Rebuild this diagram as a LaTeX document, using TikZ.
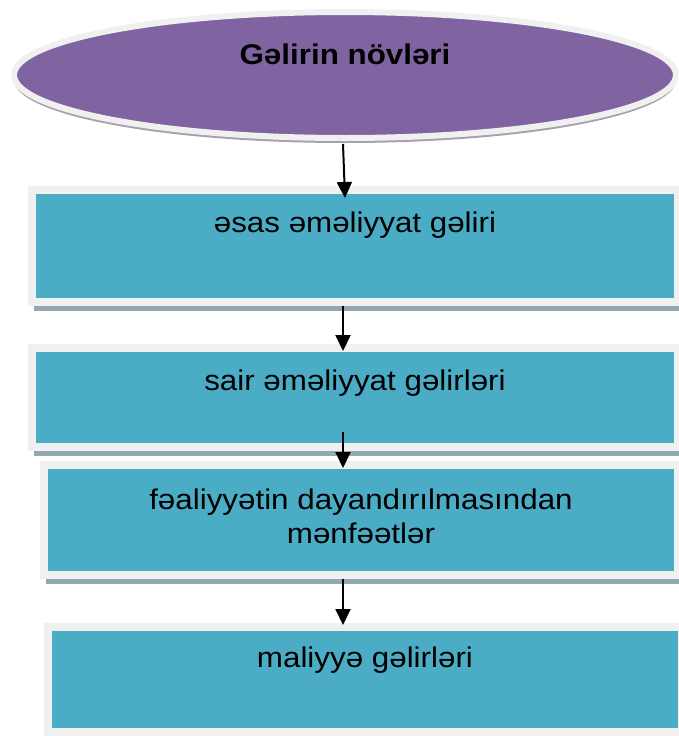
\documentclass[tikz,border=0pt]{standalone}
\usepackage{fontspec}
\setmainfont{Liberation Sans}[FakeStretch=1.1]
\usepackage{tikz}
\usetikzlibrary{positioning, arrows.meta, shapes.geometric, shadows}

\definecolor{boxteal}{HTML}{4BACC6}
\definecolor{titlepurple}{HTML}{8064A2}
\definecolor{rimgrey}{HTML}{F0F0F0}
\definecolor{shadowgrey}{HTML}{93A8AF}
\definecolor{titleshadow}{HTML}{A6A1AC}

\begin{document}
\begin{tikzpicture}
    [
        x=1pt, y=-1pt, on grid,
        purple_node/.style={ellipse, draw=rimgrey, fill=titlepurple, line width=6pt, minimum width=662pt, minimum height=126pt, inner sep=0pt, font=\fontsize{28.5}{34}\selectfont\bfseries, text height=19pt, text depth=41pt, drop shadow={shadow xshift=0pt, shadow yshift=-5pt, fill=titleshadow, opacity=1}},
        teal_box/.style={rectangle, draw=rimgrey, fill=boxteal, line width=8pt, inner sep=0pt, align=center, font=\fontsize{28.5}{34}\selectfont, drop shadow={shadow xshift=2pt, shadow yshift=-9pt, fill=shadowgrey, opacity=1}},
        flow_arrow/.style={-{Triangle[length=16pt, width=15pt]}, line width=2pt, color=black},
    ]
        \useasboundingbox (0,0) rectangle (678,736);
        \node[purple_node] (title) at (345,75) {Gəlirin növləri} ;
        \node[teal_box, minimum width=646pt, minimum height=112pt, text height=42pt, text depth=70pt] (main_income) [below=171pt of title, xshift=10pt] {əsas əməliyyat gəliri} ;
        \node[teal_box, minimum width=646pt, minimum height=99pt, text height=42pt, text depth=57pt] (other_income) [below=151.5pt of main_income] {sair əməliyyat gəlirləri} ;
        \node[teal_box, minimum width=634pt, minimum height=110pt, text depth=8pt] (stop_gains) [below=122.5pt of other_income, xshift=6pt] {fəaliyyətin dayandırılmasından\\mənfəətlər} ;
        \node[teal_box, minimum width=634pt, minimum height=105pt, text height=40pt, text depth=65pt] (finance_income) [below=159.5pt of stop_gains, xshift=4pt] {maliyyə gəlirləri} ;
        \path (title.south) ++(-2,3) coordinate (a1_start) (title.south |- main_income.north) ++(0,12) coordinate (a1_end) ;
        \path (main_income.south -| a1_start) coordinate (a2_start) (other_income.north -| a1_start) ++(0,7) coordinate (a2_end) ;
        \path (other_income.south -| a1_start) ++(0,-19) coordinate (a3_start) (stop_gains.north -| a1_start) ++(0,7) coordinate (a3_end) ;
        \path (stop_gains.south -| a1_start) coordinate (a4_start) (finance_income.north -| a1_start) ++(0,2) coordinate (a4_end) ;
        \draw[flow_arrow] (a1_start) to (a1_end) ;
        \draw[flow_arrow] (a2_start) to (a2_end) ;
        \draw[flow_arrow] (a3_start) to (a3_end) ;
        \draw[flow_arrow] (a4_start) to (a4_end) ;
    \end{tikzpicture}
\end{document}
